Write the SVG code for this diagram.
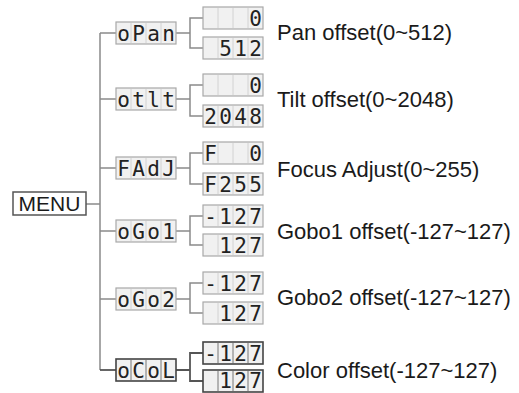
<svg xmlns="http://www.w3.org/2000/svg" width="519" height="393" viewBox="0 0 519 393">
<style>
.ln{stroke:#8a8a8a;stroke-width:1.5;fill:none}
.lnd{stroke:#555;stroke-width:1.8;fill:none}
.box{fill:#f1f1f1;stroke:#a8a8a8;stroke-width:1.2}
.boxd{fill:#f1f1f1;stroke:#444;stroke-width:1.6}
.cell{stroke:#d2d2d2;stroke-width:1}
.celld{stroke:#777;stroke-width:1}
.seg{font-family:"DejaVu Sans Mono","Liberation Mono",monospace;font-size:21px;fill:#222;text-anchor:middle}
.lbl{font-family:"Liberation Sans",Arial,sans-serif;font-size:22px;fill:#1a1a1a}
.menu{font-family:"Liberation Sans",Arial,sans-serif;font-size:21px;fill:#1a1a1a}
</style>
<defs>
<g id="cells"><line class="cell" x1="15" y1="1" x2="15" y2="21"/><line class="cell" x1="30" y1="1" x2="30" y2="21"/><line class="cell" x1="45" y1="1" x2="45" y2="21"/></g>
<g id="cellsd"><line class="celld" x1="15" y1="1" x2="15" y2="21"/><line class="celld" x1="30" y1="1" x2="30" y2="21"/><line class="celld" x1="45" y1="1" x2="45" y2="21"/></g>
</defs>
<rect width="519" height="393" fill="#ffffff"/>

<g id="connectors">
<line class="ln" x1="86" y1="204" x2="100" y2="204"/>
<line class="ln" x1="100" y1="33" x2="100" y2="370"/>
<line class="ln" x1="100" y1="33" x2="116" y2="33"/>
<line class="ln" x1="100" y1="99" x2="116" y2="99"/>
<line class="ln" x1="100" y1="168" x2="116" y2="168"/>
<line class="ln" x1="100" y1="231" x2="116" y2="231"/>
<line class="ln" x1="100" y1="299" x2="116" y2="299"/>
<line class="lnd" x1="100" y1="370" x2="116" y2="370"/>
<path class="ln" d="M176 33H190M203 18H190V48H203"/>
<path class="ln" d="M176 99H190M203 85H190V116H203"/>
<path class="ln" d="M176 168H190M203 153H190V184H203"/>
<path class="ln" d="M176 231H190M203 216H190V245H203"/>
<path class="ln" d="M176 299H190M203 283H190V313H203"/>
<path class="lnd" d="M176 370H190M203 353H190V381H203"/>
</g>

<g id="menu">
<rect x="13" y="192" width="73" height="23" fill="#fff" stroke="#555" stroke-width="1.5"/>
<text class="menu" x="49.5" y="211" text-anchor="middle">MENU</text>
</g>

<g id="oPan">
<rect class="box" x="116" y="22" width="60" height="22"/><use href="#cells" x="116" y="22"/>
<text class="seg" x="123.5 138.5 153.5 168.5" y="40.5">oPan</text>
<rect class="box" x="203" y="7" width="60" height="22"/><use href="#cells" x="203" y="7"/>
<text class="seg" x="255.5" y="25.5">0</text>
<rect class="box" x="203" y="37" width="60" height="22"/><use href="#cells" x="203" y="37"/>
<text class="seg" x="225.5 240.5 255.5" y="55.5">512</text>
<text class="lbl" x="277" y="40">Pan offset(0~512)</text>
</g>

<g id="otlt">
<rect class="box" x="116" y="88" width="60" height="22"/><use href="#cells" x="116" y="88"/>
<text class="seg" x="123.5 138.5 153.5 168.5" y="106.5">otlt</text>
<rect class="box" x="203" y="74" width="60" height="22"/><use href="#cells" x="203" y="74"/>
<text class="seg" x="255.5" y="92.5">0</text>
<rect class="box" x="203" y="105" width="60" height="22"/><use href="#cells" x="203" y="105"/>
<text class="seg" x="210.5 225.5 240.5 255.5" y="123.5">2048</text>
<text class="lbl" x="277" y="107">Tilt offset(0~2048)</text>
</g>

<g id="FAdJ">
<rect class="box" x="116" y="157" width="60" height="22"/><use href="#cells" x="116" y="157"/>
<text class="seg" x="123.5 138.5 153.5 168.5" y="175.5">FAdJ</text>
<rect class="box" x="203" y="142" width="60" height="22"/><use href="#cells" x="203" y="142"/>
<text class="seg"><tspan x="210.5" y="160.5">F</tspan><tspan x="255.5" y="160.5">0</tspan></text>
<rect class="box" x="203" y="173" width="60" height="22"/><use href="#cells" x="203" y="173"/>
<text class="seg" x="210.5 225.5 240.5 255.5" y="191.5">F255</text>
<text class="lbl" x="277" y="177">Focus Adjust(0~255)</text>
</g>

<g id="oGo1">
<rect class="box" x="116" y="220" width="60" height="22"/><use href="#cells" x="116" y="220"/>
<text class="seg" x="123.5 138.5 153.5 168.5" y="238.5">oGo1</text>
<rect class="box" x="203" y="205" width="60" height="22"/><use href="#cells" x="203" y="205"/>
<text class="seg" x="210.5 225.5 240.5 255.5" y="223.5">-127</text>
<rect class="box" x="203" y="234" width="60" height="22"/><use href="#cells" x="203" y="234"/>
<text class="seg" x="225.5 240.5 255.5" y="252.5">127</text>
<text class="lbl" x="277" y="239">Gobo1 offset(-127~127)</text>
</g>

<g id="oGo2">
<rect class="box" x="116" y="288" width="60" height="22"/><use href="#cells" x="116" y="288"/>
<text class="seg" x="123.5 138.5 153.5 168.5" y="306.5">oGo2</text>
<rect class="box" x="203" y="272" width="60" height="22"/><use href="#cells" x="203" y="272"/>
<text class="seg" x="210.5 225.5 240.5 255.5" y="290.5">-127</text>
<rect class="box" x="203" y="302" width="60" height="22"/><use href="#cells" x="203" y="302"/>
<text class="seg" x="225.5 240.5 255.5" y="320.5">127</text>
<text class="lbl" x="277" y="305">Gobo2 offset(-127~127)</text>
</g>

<g id="oCoL">
<rect class="boxd" x="116" y="359" width="60" height="22"/><use href="#cellsd" x="116" y="359"/>
<text class="seg" x="123.5 138.5 153.5 168.5" y="377.5">oCoL</text>
<rect class="boxd" x="203" y="342" width="60" height="22"/><use href="#cellsd" x="203" y="342"/>
<text class="seg" x="210.5 225.5 240.5 255.5" y="360.5">-127</text>
<rect class="boxd" x="203" y="370" width="60" height="22"/><use href="#cellsd" x="203" y="370"/>
<text class="seg" x="225.5 240.5 255.5" y="388">127</text>
<text class="lbl" x="277" y="378">Color offset(-127~127)</text>
</g>
</svg>
